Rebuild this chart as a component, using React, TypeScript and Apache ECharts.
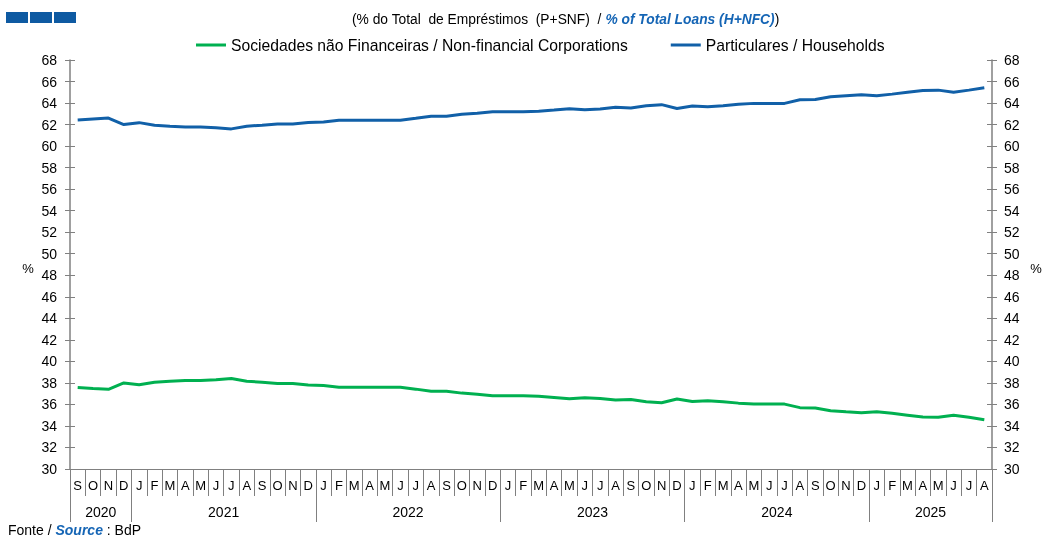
import React, { useEffect, useRef } from "react";
import * as echarts from "echarts";

const months: string[] = [
  "S", "O", "N", "D",
  "J", "F", "M", "A", "M", "J", "J", "A", "S", "O", "N", "D",
  "J", "F", "M", "A", "M", "J", "J", "A", "S", "O", "N", "D",
  "J", "F", "M", "A", "M", "J", "J", "A", "S", "O", "N", "D",
  "J", "F", "M", "A", "M", "J", "J", "A", "S", "O", "N", "D",
  "J", "F", "M", "A", "M", "J", "J", "A",
];

const years: string[] = ["2020", "2021", "2022", "2023", "2024", "2025"];
const yearCenters: number[] = [2, 10, 22, 34, 46, 56];
const yearBounds: number[] = [0, 4, 16, 28, 40, 52, 60];

const households: number[] = [
  62.43, 62.52, 62.6, 62.0, 62.18, 61.94, 61.85, 61.78, 61.78, 61.7,
  61.6, 61.85, 61.94, 62.06, 62.06, 62.2, 62.25, 62.4, 62.4, 62.4,
  62.4, 62.4, 62.58, 62.77, 62.77, 62.95, 63.05, 63.2, 63.2, 63.2,
  63.23, 63.35, 63.48, 63.38, 63.45, 63.6, 63.54, 63.75, 63.85, 63.5,
  63.72, 63.66, 63.75, 63.88, 63.97, 63.97, 63.97, 64.3, 64.33, 64.58,
  64.68, 64.77, 64.68, 64.83, 65.0, 65.17, 65.2, 65.0, 65.2, 65.42,
];

const nfc: number[] = [
  37.57, 37.48, 37.4, 38.0, 37.82, 38.06, 38.15, 38.22, 38.22, 38.3,
  38.4, 38.15, 38.06, 37.94, 37.94, 37.8, 37.75, 37.6, 37.6, 37.6,
  37.6, 37.6, 37.42, 37.23, 37.23, 37.05, 36.95, 36.8, 36.8, 36.8,
  36.77, 36.65, 36.52, 36.62, 36.55, 36.4, 36.46, 36.25, 36.15, 36.5,
  36.28, 36.34, 36.25, 36.12, 36.03, 36.03, 36.03, 35.7, 35.67, 35.42,
  35.32, 35.23, 35.32, 35.17, 35.0, 34.83, 34.8, 35.0, 34.8, 34.58,
];

const NFC_NAME = "Sociedades não Financeiras / Non-financial Corporations";
const HH_NAME = "Particulares / Households";

const FONT = "'Liberation Sans', Arial, sans-serif";
const GREEN = "#00B050";
const BLUE = "#1160A8";
const AXIS = "#808080";

export default function App() {
  const ref = useRef<HTMLDivElement>(null);

  useEffect(() => {
    if (!ref.current) return;
    const chart = echarts.init(ref.current, undefined, { renderer: "svg" });

    const yBase = {
      type: "value" as const,
      min: 30,
      max: 68,
      interval: 2,
      splitLine: { show: false },
    };

    const option: any = {
      animation: false,
      textStyle: { fontFamily: FONT },
      grid: { left: 70, right: 51, top: 60, bottom: 69 },
      legend: {
        left: 191,
        top: 32,
        itemWidth: 30,
        itemHeight: 3,
        itemGap: 43,
        textStyle: { fontFamily: FONT, fontSize: 15.7, color: "#000" },
        data: [
          { name: NFC_NAME, icon: "rect" },
          { name: HH_NAME, icon: "rect" },
        ],
      },
      xAxis: [
        {
          type: "category",
          data: months,
          position: "bottom",
          boundaryGap: true,
          axisLine: { show: true, lineStyle: { color: AXIS, width: 1 } },
          axisTick: {
            show: true,
            interval: 0,
            alignWithLabel: false,
            length: 27,
            lineStyle: { color: AXIS },
          },
          axisLabel: {
            interval: 0,
            margin: 10,
            fontSize: 13,
            color: "#000",
            fontFamily: FONT,
          },
          splitLine: { show: false },
        },
        {
          type: "value",
          min: 0,
          max: 60,
          position: "bottom",
          axisLine: { show: false },
          splitLine: { show: false },
          axisTick: {
            show: true,
            customValues: yearBounds,
            length: 53,
            lineStyle: { color: AXIS },
          },
          axisLabel: {
            show: true,
            customValues: yearCenters,
            margin: 36,
            fontSize: 14,
            color: "#000",
            fontFamily: FONT,
            formatter: (v: number) => {
              const i = yearCenters.indexOf(Math.round(v));
              return i >= 0 ? years[i] : "";
            },
          },
        },
      ],
      yAxis: [
        {
          ...yBase,
          position: "left",
          axisLine: { show: true, lineStyle: { color: AXIS, width: 1.5 } },
          axisTick: { show: true, length: 5, lineStyle: { color: AXIS } },
          axisLabel: { margin: 13, fontSize: 14, color: "#000", fontFamily: FONT },
        },
        {
          ...yBase,
          position: "left",
          axisLine: { show: false },
          axisTick: { show: true, inside: true, length: 5, lineStyle: { color: AXIS } },
          axisLabel: { show: false },
        },
        {
          ...yBase,
          position: "right",
          axisLine: { show: true, lineStyle: { color: AXIS, width: 1.5 } },
          axisTick: { show: true, length: 5, lineStyle: { color: AXIS } },
          axisLabel: { margin: 12, fontSize: 14, color: "#000", fontFamily: FONT },
        },
        {
          ...yBase,
          position: "right",
          axisLine: { show: false },
          axisTick: { show: true, inside: true, length: 5, lineStyle: { color: AXIS } },
          axisLabel: { show: false },
        },
      ],
      series: [
        {
          name: NFC_NAME,
          type: "line",
          data: nfc,
          xAxisIndex: 0,
          yAxisIndex: 0,
          showSymbol: false,
          symbol: "none",
          lineStyle: { color: GREEN, width: 3 },
          itemStyle: { color: GREEN },
        },
        {
          name: HH_NAME,
          type: "line",
          data: households,
          xAxisIndex: 0,
          yAxisIndex: 0,
          showSymbol: false,
          symbol: "none",
          lineStyle: { color: BLUE, width: 3 },
          itemStyle: { color: BLUE },
        },
      ],
      graphic: [
        { type: "rect", shape: { x: 6, y: 12, width: 22, height: 11 }, style: { fill: "#0E5AA2" } },
        { type: "rect", shape: { x: 30, y: 12, width: 22, height: 11 }, style: { fill: "#0E5AA2" } },
        { type: "rect", shape: { x: 54, y: 12, width: 22, height: 11 }, style: { fill: "#0E5AA2" } },
        {
          type: "text",
          x: 352,
          y: 19,
          style: {
            text: "{a|(% do Total  de Empréstimos  (P+SNF)  / }{b|% of Total Loans (H+NFC)}{a|)}",
            verticalAlign: "middle",
            rich: {
              a: { fontFamily: FONT, fontSize: 13.8, fill: "#000" },
              b: { fontFamily: FONT, fontSize: 13.8, fontWeight: "bold", fontStyle: "italic", fill: "#1565B5" },
            },
          },
        },
        {
          type: "text",
          x: 8,
          y: 530,
          style: {
            text: "{a|Fonte / }{b|Source}{a| : BdP}",
            verticalAlign: "middle",
            rich: {
              a: { fontFamily: FONT, fontSize: 14, fill: "#000" },
              b: { fontFamily: FONT, fontSize: 14, fontWeight: "bold", fontStyle: "italic", fill: "#1565B5" },
            },
          },
        },
        {
          type: "text",
          x: 28,
          y: 268,
          style: { text: "%", fontFamily: FONT, fontSize: 13, fill: "#000", align: "center", verticalAlign: "middle" },
        },
        {
          type: "text",
          x: 1036,
          y: 268,
          style: { text: "%", fontFamily: FONT, fontSize: 13, fill: "#000", align: "center", verticalAlign: "middle" },
        },
      ],
    };

    chart.setOption(option);
    return () => chart.dispose();
  }, []);

  return (
    <div
      ref={ref}
      style={{ position: "fixed", left: 0, top: 0, width: 1043, height: 538 }}
    />
  );
}
